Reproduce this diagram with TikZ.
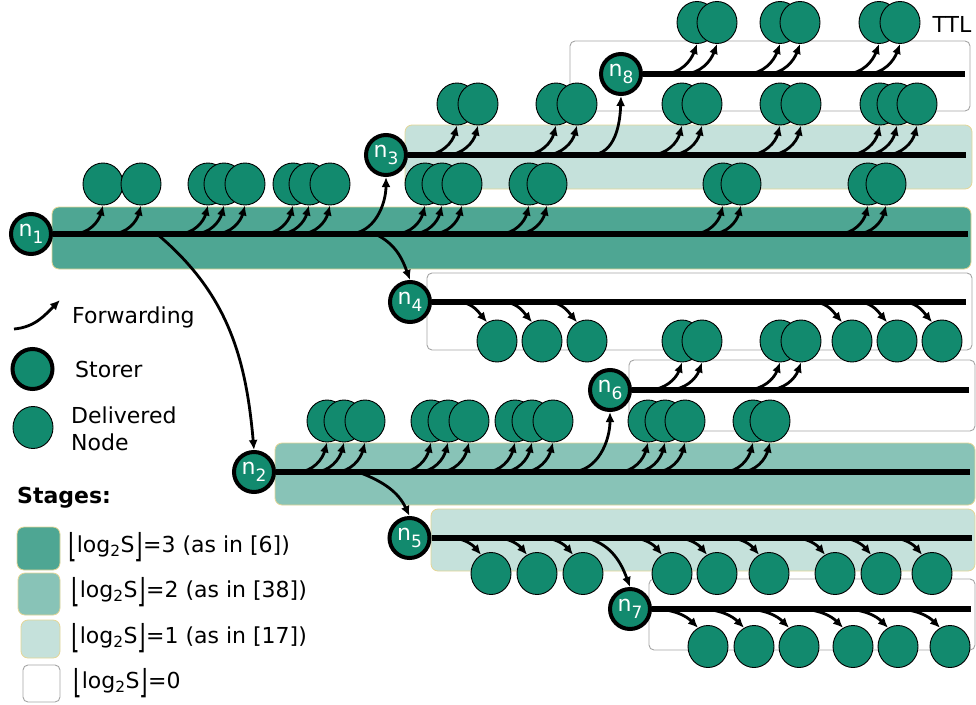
\documentclass[tikz,border=0pt]{standalone}
\usepackage{fontspec}
\usepackage{graphicx}
\setmainfont{DejaVu Sans}
\usetikzlibrary{arrows.meta,shapes.geometric}
\definecolor{tealc}{RGB}{18,138,110}
\definecolor{stthree}{RGB}{78,166,147}
\definecolor{sttwo}{RGB}{136,195,183}
\definecolor{stone}{RGB}{197,225,219}
\definecolor{bandedge}{RGB}{228,214,150}
\definecolor{boxedge}{RGB}{165,165,165}
\newcommand\nn[1]{n\raisebox{-0.3em}{\fontsize{17}{17}\selectfont #1}}
\newcommand\tallbr[1]{\raisebox{-0.22em}{\scalebox{1}[1.5]{#1}}}
\newcommand\lgs{\tallbr{⌊}log\textsubscript{2}S\tallbr{⌋}}
\tikzset{
 storer/.style={circle, draw=black, line width=4pt, fill=tealc, minimum size=40pt, inner sep=0pt, text=white, font=\fontsize{22}{22}\selectfont},
 deliv/.style={ellipse, draw=black, line width=0.9pt, fill=tealc, minimum width=40pt, minimum height=42pt, inner sep=0pt},
 fwd/.style={line width=2.8pt, -{Latex[length=10pt,width=9pt]}},
 mainline/.style={line width=5.5pt},
 band/.style={rounded corners=7pt, draw=bandedge, line width=0.8pt},
 wbox/.style={rounded corners=5pt, draw=boxedge, line width=0.9pt, fill=white},
 lab/.style={font=\fontsize{22}{27}\selectfont, anchor=west, inner sep=0pt, align=left}
}
\begin{document}
\begin{tikzpicture}[x=1pt,y=-1pt]
\useasboundingbox (0,0) rectangle (976,704);

% bands and boxes
\draw[band, fill=stthree] (52,207) rectangle (971,269);
\draw[band, fill=stone] (405,125) rectangle (972,189);
\draw[band, fill=sttwo] (275,443) rectangle (975,505);
\draw[band, fill=stone] (431,509) rectangle (975,571);
\draw[wbox] (570,41) rectangle (970,111);
\draw[wbox] (427,273) rectangle (972,350);
\draw[wbox] (629,360) rectangle (975,431);
\draw[wbox] (649,579) rectangle (975,650);

% storers
\node[storer] (n1) at (31,234) {\nn{1}};
\node[storer] (n3) at (386,155) {\nn{3}};
\node[storer] (n8) at (621,74) {\nn{8}};
\node[storer] (n4) at (410,302) {\nn{4}};
\node[storer] (n6) at (610,390) {\nn{6}};
\node[storer] (n2) at (254,472) {\nn{2}};
\node[storer] (n5) at (409.5,538) {\nn{5}};
\node[storer] (n7) at (630,609) {\nn{7}};

% end points of the lines
\coordinate (e1) at (968,234);
\coordinate (e3) at (966,155);
\coordinate (e8) at (965,74);
\coordinate (e4) at (966,302);
\coordinate (e6) at (969,390);
\coordinate (e2) at (970,472);
\coordinate (e5) at (972,538);
\coordinate (e7) at (971,609);
\foreach \s in {1,3,8,4,6,2,5,7} {\draw[mainline] (n\s.east) -- (e\s);}

% delivered nodes
\foreach \x [count=\i] in {103,141,208,224,245,293,309,330,425,442,462,529,547,723,741,868,886}
  {\node[deliv] (ua\i) at (\x,184) {};}
\foreach \x [count=\i] in {457,478,556,577,682,702,780,801,880,897,917}
  {\node[deliv] (ub\i) at (\x,104) {};}
\foreach \x [count=\i] in {697,717,780,800,879,900}
  {\node[deliv] (uc\i) at (\x,22.5) {};}
\foreach \x [count=\i] in {682,702,780,801}
  {\node[deliv] (ud\i) at (\x,341) {};}
\foreach \x [count=\i] in {327,344,365,431,448,469,515,532,553,648,665,685,753,770}
  {\node[deliv] (ue\i) at (\x,421) {};}
\foreach \x [count=\i] in {497,542,587,852,897,942}
  {\node[deliv] (da\i) at (\x,341) {};}
\foreach \x [count=\i] in {491,537,583,672,717,769,835,881,932}
  {\node[deliv] (db\i) at (\x,573.5) {};}
\foreach \x [count=\i] in {708,754,799,853,898,950}
  {\node[deliv] (dc\i) at (\x,646.5) {};}

% forwarding arrows (up)
\foreach \x [count=\i] in {103,141,208,224,245,293,309,330,425,442,462,529,547,723,741,868,886}
  {\coordinate (sa\i) at (\x-30,234); \draw[fwd] (sa\i) to[out=0,in=-105] (ua\i.south);}
\foreach \x [count=\i] in {457,478,556,577,682,702,780,801,880,897,917}
  {\coordinate (sb\i) at (\x-32,155); \draw[fwd] (sb\i) to[out=0,in=-105] (ub\i.south);}
\foreach \x [count=\i] in {697,717,780,800,879,900}
  {\coordinate (sc\i) at (\x-34,74); \draw[fwd] (sc\i) to[out=0,in=-110] (uc\i.south);}
\foreach \x [count=\i] in {682,702,780,801}
  {\coordinate (sd\i) at (\x-34,390); \draw[fwd] (sd\i) to[out=0,in=-110] (ud\i.south);}
\foreach \x [count=\i] in {327,344,365,431,448,469,515,532,553,648,665,685,753,770}
  {\coordinate (se\i) at (\x-30,472); \draw[fwd] (se\i) to[out=0,in=-105] (ue\i.south);}
% forwarding arrows (down)
\foreach \x [count=\i] in {497,542,587,852,897,942}
  {\coordinate (ta\i) at (\x-36,302); \draw[fwd] (ta\i) to[out=-10,in=130] (da\i.118);}
\foreach \x [count=\i] in {491,537,583,672,717,769,835,881,932}
  {\coordinate (tb\i) at (\x-36,538); \draw[fwd] (tb\i) to[out=-10,in=130] (db\i.118);}
\foreach \x [count=\i] in {708,754,799,853,898,950}
  {\coordinate (tc\i) at (\x-50,609); \draw[fwd] (tc\i) to[out=-5,in=135] (dc\i.118);}

% branches to storers
\coordinate (b12) at (157,234);
\coordinate (b13) at (348,234);
\coordinate (b14) at (375,234);
\coordinate (b38) at (590,155);
\coordinate (b26) at (570,472);
\coordinate (b25) at (358,472);
\coordinate (b57) at (587,538);
\draw[fwd] (b12) to[out=-40,in=95] (n2.north);
\draw[fwd] (b13) to[out=0,in=-90] (n3.south);
\draw[fwd] (b14) to[out=-25,in=110] (n4.north);
\draw[fwd] (b38) to[out=0,in=-92] (n8.south);
\draw[fwd] (b26) to[out=0,in=-90] (n6.south);
\draw[fwd] (b25) to[out=-20,in=115] (n5.north);
\draw[fwd] (b57) to[out=-15,in=110] (n7.north);

% TTL
\node[lab, anchor=center] (ttl) at (952,24) {TTL};

% legend
\coordinate (fa) at (14,329);
\coordinate (fb) at (60,300);
\draw[fwd] (fa) to[out=5,in=-135] (fb);
\node[lab] (lf) at (72,317) {Forwarding};
\node[storer] (ls) at (32.5,369) {};
\node[lab] (lst) at (75,369) {Storer};
\node[deliv] (ld) at (33,427.5) {};
\node[lab] (ldt) at (71,429) {Delivered\\Node};
\node[lab, font=\fontsize{22}{27}\selectfont\bfseries] (stg) at (17,498) {Stages:};
\draw[band, fill=stthree] (17,527) rectangle (60,570);
\draw[band, fill=sttwo] (18,573) rectangle (60,615);
\draw[band, fill=stone] (21,620) rectangle (60,658);
\draw[wbox] (23,665) rectangle (60,702);
\node[lab] (l3) at (68,547) {\lgs=3 (as in [6])};
\node[lab] (l2) at (71,592) {\lgs=2 (as in [38])};
\node[lab] (l1) at (71,638) {\lgs=1 (as in [17])};
\node[lab] (l0) at (73,683) {\lgs=0};
\end{tikzpicture}
\end{document}
